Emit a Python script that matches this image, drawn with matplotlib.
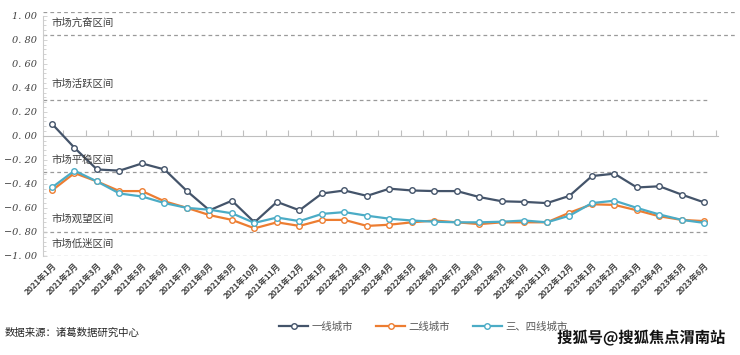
import matplotlib
matplotlib.use("Agg")
import matplotlib.pyplot as plt
import matplotlib.patheffects as pe
from matplotlib.ticker import MultipleLocator, FixedLocator

plt.rcParams["font.family"] = ["Noto Sans CJK SC", "DejaVu Sans"]

# 月份
months = ([f"2021年{m}月" for m in range(1, 13)] +
          [f"2022年{m}月" for m in range(1, 13)] +
          [f"2023年{m}月" for m in range(1, 7)])

# 各城市能级指数
tier1 = [0.10, -0.10, -0.28, -0.29, -0.23, -0.28, -0.46, -0.62, -0.54, -0.72,
         -0.55, -0.62, -0.48, -0.455, -0.50, -0.44, -0.455, -0.46, -0.46, -0.51,
         -0.545, -0.55, -0.56, -0.50, -0.335, -0.315, -0.43, -0.42, -0.49, -0.555]
tier2 = [-0.455, -0.31, -0.38, -0.46, -0.46, -0.545, -0.60, -0.66, -0.70, -0.77,
         -0.72, -0.75, -0.70, -0.70, -0.75, -0.74, -0.72, -0.705, -0.72, -0.735,
         -0.72, -0.72, -0.72, -0.64, -0.57, -0.575, -0.62, -0.67, -0.70, -0.71]
tier34 = [-0.43, -0.29, -0.38, -0.48, -0.505, -0.56, -0.60, -0.615, -0.645, -0.725,
          -0.68, -0.71, -0.65, -0.635, -0.665, -0.69, -0.705, -0.715, -0.72, -0.72,
          -0.715, -0.705, -0.72, -0.665, -0.56, -0.54, -0.60, -0.655, -0.70, -0.725]

series_names = ["一线城市", "二线城市", "三、四线城市"]
series_colors = ["#44546A", "#ED7D31", "#4BACC6"]

# 区间分界线与区间名称
zone_lines = [1.03, 0.84, 0.30, -0.30, -0.80, -1.00]
zone_labels = ["市场亢奋区间", "市场活跃区间", "市场平稳区间", "市场观望区间", "市场低迷区间"]
zone_label_y = [0.945, 0.43, -0.20, -0.69, -0.90]

y_ticks = [1.0, 0.8, 0.6, 0.4, 0.2, 0.0, -0.2, -0.4, -0.6, -0.8, -1.0]

fig = plt.figure(figsize=(7.4, 3.55), dpi=100)
ax = fig.add_axes([43 / 740, 0.279, 692 / 740, 0.687])

x = list(range(len(months)))
for vals, name, col in zip([tier1, tier2, tier34], series_names, series_colors):
    ax.plot(x, vals, color=col, lw=1.6, marker="o", markersize=4,
            markerfacecolor="white", markeredgecolor=col, markeredgewidth=1.0,
            label=name, zorder=3)

# 分界虚线
for v in zone_lines:
    xmax = 1.0 if v > 0.5 else 0.96
    ax.axhline(v, xmin=0, xmax=xmax, color="#9a9a9a", lw=0.9,
               ls=(0, (3, 2.5)), zorder=1)

for lbl, yy in zip(zone_labels, zone_label_y):
    ax.text(0, yy, lbl, fontsize=7.5, color="#404040", style="italic",
            ha="left", va="center")

ax.set_xlim(-0.4, 30.36)
ax.set_ylim(-1.0, 1.03)

# 左轴
ax.spines["top"].set_visible(False)
ax.spines["right"].set_visible(False)
ax.spines["left"].set_color("#cccccc")
ax.spines["left"].set_bounds(-1.0, 1.0)
ax.set_yticks(y_ticks)
ax.set_yticklabels([f"{v:.2f}".replace(".", ". ").replace("-", "\u2212") for v in y_ticks],
                   fontsize=7, color="#404040", style="italic",
                   family=["DejaVu Serif"])
ax.yaxis.set_minor_locator(MultipleLocator(0.04))
ax.tick_params(axis="y", which="both", direction="in", color="#cccccc",
               length=3, width=0.6, pad=4)
ax.tick_params(axis="y", which="minor", length=2)

# 零线（横轴）
ax.spines["bottom"].set_position(("data", 0))
ax.spines["bottom"].set_color("#bfbfbf")
ax.spines["bottom"].set_bounds(-0.4, 29.6)
ax.set_xticks(x)
ax.xaxis.set_minor_locator(FixedLocator([i + 0.5 for i in range(-1, 30)]))
ax.tick_params(axis="x", which="major", length=0, labelbottom=False)
ax.tick_params(axis="x", which="minor", direction="in", length=4,
               color="#bfbfbf", width=0.8)

sec = ax.secondary_xaxis("bottom")
sec.set_xticks(x)
sec.set_xticklabels(months, rotation=45, ha="right", va="top",
                    rotation_mode="anchor", fontsize=6, fontweight="bold",
                    color="#404040")
sec.tick_params(length=0, pad=4)
sec.spines["bottom"].set_visible(False)

# 图例
fig.legend(loc="center", bbox_to_anchor=(0.572, 0.079), ncol=3, frameon=False,
           fontsize=7.5, handlelength=2.8, handletextpad=0.3,
           columnspacing=2.2, labelcolor="#595959")

fig.text(5 / 740, 1 - 333 / 355, "数据来源：诸葛数据研究中心", fontsize=7.5,
         color="#262626", ha="left", va="center")

fig.text(725 / 740, 1 - 338 / 355, "搜狐号@搜狐焦点渭南站", fontsize=11,
         fontweight="bold", color="#111111", ha="right", va="center",
         path_effects=[pe.withStroke(linewidth=2.5, foreground="white")])

fig.savefig("out.png", dpi=100)
